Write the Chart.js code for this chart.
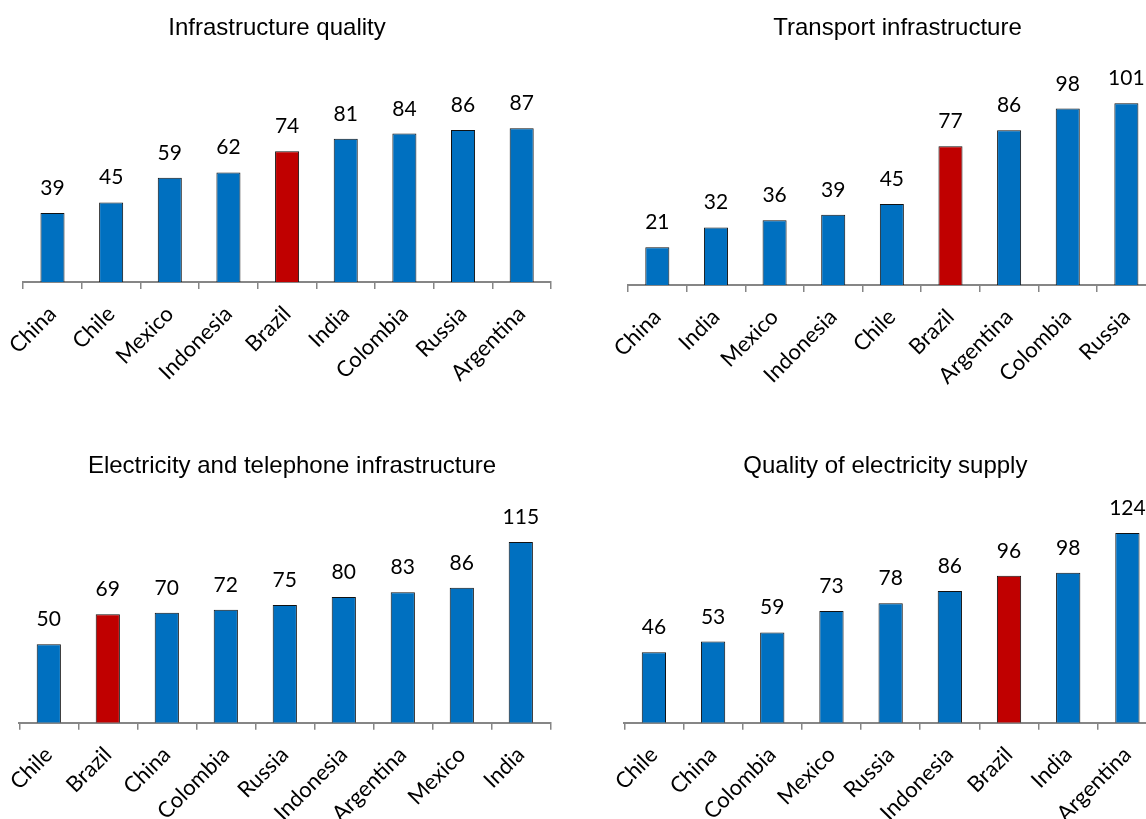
<!DOCTYPE html>
<html>
<head>
<meta charset="utf-8">
<script src="https://cdn.jsdelivr.net/npm/chart.js@4"></script>
<style>
    html, body { margin: 0; padding: 0; background: #fff; overflow: hidden; width: 1146px; height: 819px; }
    canvas { position: absolute; }
</style>
</head>
<body>
<canvas id="chart1" width="575" height="430" style="left:0px;top:0px"></canvas>
<canvas id="chart2" width="580" height="430" style="left:600px;top:0px"></canvas>
<canvas id="chart3" width="575" height="381" style="left:0px;top:438px"></canvas>
<canvas id="chart4" width="580" height="381" style="left:600px;top:438px"></canvas>
<script>
// Data
const quality = ['China', 'Chile', 'Mexico', 'Indonesia', 'Brazil', 'India', 'Colombia', 'Russia', 'Argentina'];
const qualityValues = [39, 45, 59, 62, 74, 81, 84, 86, 87];

const transport = ['China', 'India', 'Mexico', 'Indonesia', 'Chile', 'Brazil', 'Argentina', 'Colombia', 'Russia'];
const transportValues = [21, 32, 36, 39, 45, 77, 86, 98, 101];

const phone = ['Chile', 'Brazil', 'China', 'Colombia', 'Russia', 'Indonesia', 'Argentina', 'Mexico', 'India'];
const phoneValues = [50, 69, 70, 72, 75, 80, 83, 86, 115];

const electricity = ['Chile', 'China', 'Colombia', 'Mexico', 'Russia', 'Indonesia', 'Brazil', 'India', 'Argentina'];
const electricityValues = [46, 53, 59, 73, 78, 86, 96, 98, 124];

const BLUE = '#0070C0';
const RED = '#C00000';
const AXIS = '#868686';

// Value labels above each bar
const valueLabels = {
    id: 'valueLabels',
    afterDatasetsDraw(chart) {
        const ctx = chart.ctx;
        const meta = chart.getDatasetMeta(0);
        const data = chart.data.datasets[0].data;
        ctx.save();
        ctx.font = '21px Lato';
        ctx.fillStyle = '#000';
        ctx.textAlign = 'center';
        ctx.textBaseline = 'alphabetic';
        meta.data.forEach((bar, i) => {
            ctx.fillText(String(data[i]), bar.x, bar.y - 18);
        });
        ctx.restore();
    }
};

function drawChart(id, title, labels, values, opts) {
    const ctx = document.getElementById(id);
    return new Chart(ctx, {
        type: 'bar',
        data: {
            labels: labels,
            datasets: [{
                data: values,
                backgroundColor: labels.map(c => c === 'Brazil' ? RED : BLUE),
                borderColor: '#111',
                borderWidth: 1,
                borderSkipped: 'bottom',
                barPercentage: 0.41,
                categoryPercentage: 1
            }]
        },
        options: {
            responsive: false,
            animation: false,
            layout: {
                padding: { left: opts.pl, right: opts.pr, top: 0, bottom: 0 }
            },
            plugins: {
                legend: { display: false },
                tooltip: { enabled: false },
                title: {
                    display: true,
                    text: title,
                    color: '#000',
                    font: { family: 'Liberation Sans', size: 24, weight: 'normal', lineHeight: 1.2 },
                    padding: { top: 14, bottom: 20 }
                }
            },
            scales: {
                x: {
                    offset: true,
                    grid: {
                        offset: true,
                        drawOnChartArea: false,
                        drawTicks: true,
                        tickLength: 7,
                        color: AXIS,
                        lineWidth: 1.5
                    },
                    border: { display: true, color: AXIS, width: 2 },
                    ticks: {
                        minRotation: 45,
                        maxRotation: 45,
                        autoSkip: false,
                        padding: 12,
                        color: '#000',
                        font: { family: 'Lato', size: 22 }
                    },
                    afterFit: scale => { scale.height = opts.xh; }
                },
                y: {
                    position: opts.side,
                    min: 0,
                    max: opts.max,
                    grid: { display: false },
                    border: { display: false },
                    ticks: { display: false },
                    afterFit: scale => { scale.width = opts.side_w; }
                }
            }
        },
        plugins: [valueLabels]
    });
}

drawChart('chart1', 'Infrastructure quality', quality, qualityValues,
    { pl: 3, pr: 24, side: 'left', side_w: 20, max: 124, xh: 148 });
drawChart('chart2', 'Transport infrastructure', transport, transportValues,
    { pl: 28, pr: 13, side: 'right', side_w: 11.3, max: 123.4, xh: 145 });
drawChart('chart3', 'Electricity and telephone infrastructure', phone, phoneValues,
    { pl: 19.3, pr: 10.3, side: 'right', side_w: 14.4, max: 141.3, xh: 96.3 });
drawChart('chart4', 'Quality of electricity supply', electricity, electricityValues,
    { pl: 13.8, pr: 23, side: 'left', side_w: 10.5, max: 145, xh: 96.3 });
</script>
</body>
</html>
